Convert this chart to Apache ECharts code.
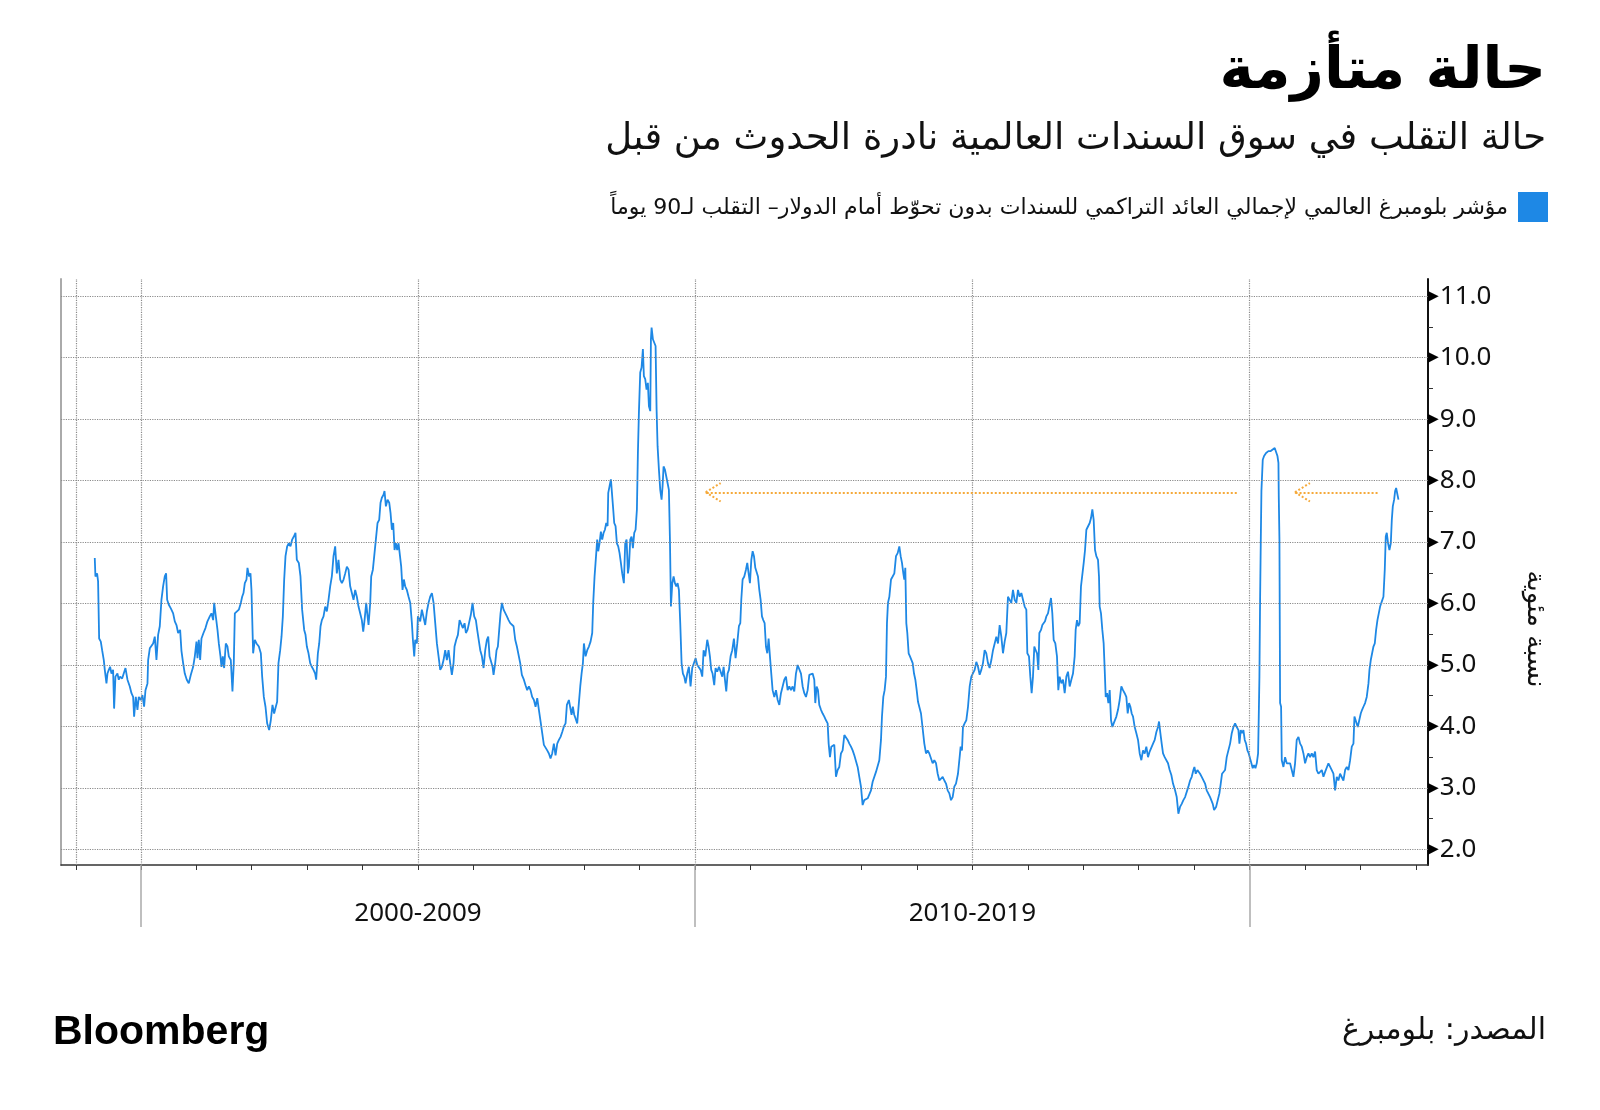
<!DOCTYPE html>
<html>
<head>
<meta charset="utf-8">
<script src="https://cdn.jsdelivr.net/npm/echarts@6/dist/echarts.min.js"></script>
<style>
  html, body { margin: 0; padding: 0; background: #fff; }
  #chart { width: 1600px; height: 1110px; }
</style>
</head>
<body>
<div id="chart"></div>
<script>
// 90-day volatility, [decimal year, percent]
const vol1999 = [
  [1999.169, 6.74], [1999.181, 6.44], [1999.211, 6.49], [1999.229, 6.36], [1999.248, 5.43], [1999.278, 5.38],
  [1999.302, 5.24], [1999.332, 5.08], [1999.350, 4.92], [1999.380, 4.70], [1999.398, 4.86], [1999.422, 4.92],
  [1999.446, 4.97], [1999.470, 4.86], [1999.500, 4.92], [1999.518, 4.29], [1999.542, 4.81], [1999.578, 4.86],
  [1999.602, 4.76], [1999.626, 4.81], [1999.663, 4.78], [1999.699, 4.81], [1999.723, 4.95], [1999.759, 4.76],
  [1999.801, 4.65], [1999.831, 4.54], [1999.861, 4.48], [1999.879, 4.16], [1999.909, 4.48], [1999.939, 4.27],
  [1999.963, 4.48], [1999.999, 4.43], [2000.029, 4.51], [2000.059, 4.32], [2000.084, 4.59], [2000.120, 4.70],
  [2000.132, 5.08], [2000.162, 5.27], [2000.192, 5.30], [2000.222, 5.35], [2000.252, 5.46], [2000.282, 5.08],
  [2000.312, 5.49], [2000.342, 5.63], [2000.372, 6.06], [2000.402, 6.28], [2000.432, 6.44], [2000.456, 6.49],
  [2000.475, 6.06], [2000.505, 5.98], [2000.541, 5.92], [2000.583, 5.84], [2000.613, 5.71], [2000.643, 5.65],
  [2000.673, 5.52], [2000.709, 5.57], [2000.733, 5.23], [2000.763, 5.03], [2000.793, 4.86], [2000.829, 4.76],
  [2000.865, 4.70], [2000.902, 4.84], [2000.944, 4.97], [2000.974, 5.14], [2001.004, 5.38], [2001.022, 5.11],
  [2001.046, 5.41], [2001.070, 5.08], [2001.094, 5.43], [2001.130, 5.52], [2001.166, 5.60], [2001.202, 5.71],
  [2001.244, 5.79], [2001.274, 5.84], [2001.305, 5.73], [2001.323, 6.01], [2001.353, 5.79], [2001.383, 5.57],
  [2001.407, 5.35], [2001.437, 5.14], [2001.455, 4.97], [2001.479, 5.14], [2001.503, 4.95], [2001.533, 5.35],
  [2001.563, 5.30], [2001.587, 5.14], [2001.623, 5.08], [2001.653, 4.57], [2001.677, 5.03], [2001.696, 5.84],
  [2001.726, 5.87], [2001.768, 5.90], [2001.804, 6.01], [2001.828, 6.11], [2001.852, 6.17], [2001.876, 6.33],
  [2001.906, 6.39], [2001.924, 6.58], [2001.954, 6.44], [2001.978, 6.49], [2001.996, 6.22], [2002.026, 5.19],
  [2002.056, 5.41], [2002.087, 5.35], [2002.129, 5.30], [2002.165, 5.19], [2002.189, 4.81], [2002.219, 4.48],
  [2002.249, 4.32], [2002.279, 4.05], [2002.315, 3.94], [2002.345, 4.10], [2002.375, 4.35], [2002.405, 4.21],
  [2002.435, 4.32], [2002.459, 4.40], [2002.483, 5.03], [2002.514, 5.24], [2002.538, 5.46], [2002.562, 5.79],
  [2002.586, 6.39], [2002.610, 6.77], [2002.640, 6.93], [2002.670, 6.98], [2002.700, 6.93], [2002.730, 7.04],
  [2002.760, 7.09], [2002.790, 7.15], [2002.814, 6.71], [2002.850, 6.66], [2002.880, 6.44], [2002.910, 5.90],
  [2002.947, 5.57], [2002.971, 5.49]
];
const vol2003 = [
  [2002.995, 5.30], [2003.025, 5.19], [2003.055, 5.03], [2003.085, 4.97], [2003.115, 4.92], [2003.145, 4.86],
  [2003.163, 4.76], [2003.194, 5.19], [2003.218, 5.35], [2003.242, 5.63], [2003.266, 5.73], [2003.296, 5.79],
  [2003.326, 5.95], [2003.356, 5.87], [2003.386, 6.06], [2003.416, 6.28], [2003.446, 6.44], [2003.476, 6.77],
  [2003.506, 6.93], [2003.536, 6.49], [2003.566, 6.71], [2003.597, 6.39], [2003.627, 6.33], [2003.657, 6.39],
  [2003.687, 6.49], [2003.717, 6.60], [2003.747, 6.55], [2003.777, 6.28], [2003.807, 6.17], [2003.837, 6.06],
  [2003.867, 6.22], [2003.897, 6.11], [2003.927, 5.95], [2003.957, 5.84], [2003.987, 5.73], [2004.012, 5.54],
  [2004.036, 5.73], [2004.066, 6.01], [2004.090, 5.79], [2004.108, 5.65], [2004.138, 6.01], [2004.156, 6.44],
  [2004.186, 6.55], [2004.216, 6.58], [2004.240, 7.04], [2004.270, 7.31], [2004.300, 7.36], [2004.324, 7.64],
  [2004.348, 7.72], [2004.378, 7.77], [2004.396, 7.83], [2004.421, 7.58], [2004.451, 7.69], [2004.481, 7.64],
  [2004.505, 7.47], [2004.529, 7.20], [2004.553, 7.31], [2004.577, 6.87], [2004.601, 6.98], [2004.625, 6.87],
  [2004.649, 6.98], [2004.673, 6.98], [2004.697, 6.60], [2004.721, 6.22], [2004.745, 6.39], [2004.769, 6.28],
  [2004.799, 6.22], [2004.830, 6.11], [2004.860, 6.01], [2004.890, 5.68], [2004.908, 5.41], [2004.932, 5.14],
  [2004.950, 5.41], [2004.980, 5.35], [2004.998, 5.79], [2005.022, 5.79], [2005.040, 5.71], [2005.070, 5.90],
  [2005.100, 5.92], [2005.130, 5.65], [2005.160, 5.87], [2005.190, 6.01], [2005.220, 6.11], [2005.251, 6.17],
  [2005.281, 6.01], [2005.311, 5.68], [2005.341, 5.35], [2005.371, 5.14], [2005.401, 4.92], [2005.431, 4.97],
  [2005.461, 5.08], [2005.491, 5.24], [2005.521, 5.08], [2005.551, 5.24], [2005.581, 5.03], [2005.611, 4.84],
  [2005.641, 5.03], [2005.659, 5.30], [2005.690, 5.41], [2005.720, 5.49], [2005.750, 5.73], [2005.780, 5.71],
  [2005.810, 5.60], [2005.840, 5.68], [2005.864, 5.52], [2005.894, 5.57], [2005.924, 5.57], [2005.954, 5.82],
  [2005.984, 6.01], [2006.014, 5.79], [2006.044, 5.73], [2006.068, 5.57], [2006.093, 5.57], [2006.123, 5.24],
  [2006.153, 5.14], [2006.183, 4.95], [2006.213, 5.24], [2006.243, 5.41], [2006.267, 5.46], [2006.291, 5.14],
  [2006.321, 5.14], [2006.345, 4.97], [2006.363, 4.84], [2006.393, 5.03], [2006.417, 5.24], [2006.441, 5.30],
  [2006.465, 5.57], [2006.489, 5.84], [2006.514, 6.01], [2006.544, 5.90], [2006.574, 5.87], [2006.604, 5.79],
  [2006.634, 5.73], [2006.664, 5.68], [2006.694, 5.71], [2006.724, 5.63], [2006.754, 5.41], [2006.784, 5.30],
  [2006.814, 5.30], [2006.844, 5.03], [2006.874, 4.84]
];
const vol2007 = [
  [2006.910, 4.76], [2006.940, 4.67], [2006.970, 4.59], [2007.000, 4.65], [2007.030, 4.59], [2007.060, 4.48],
  [2007.091, 4.43], [2007.121, 4.32], [2007.151, 4.46], [2007.181, 4.27], [2007.211, 4.08], [2007.241, 3.89],
  [2007.271, 3.70], [2007.301, 3.67], [2007.331, 3.61], [2007.361, 3.56], [2007.391, 3.48], [2007.421, 3.56],
  [2007.451, 3.72], [2007.481, 3.53], [2007.512, 3.72], [2007.542, 3.78], [2007.572, 3.83], [2007.602, 3.91],
  [2007.632, 4.00], [2007.662, 4.05], [2007.686, 4.35], [2007.722, 4.43], [2007.752, 4.46], [2007.770, 4.19],
  [2007.794, 4.32], [2007.818, 4.19], [2007.842, 4.13], [2007.872, 4.05], [2007.902, 4.38], [2007.927, 4.65],
  [2007.951, 4.86], [2007.975, 5.03], [2007.993, 5.35], [2008.023, 5.14], [2008.053, 5.24], [2008.083, 5.30],
  [2008.113, 5.38], [2008.143, 5.52], [2008.161, 6.01], [2008.185, 6.44], [2008.203, 6.66], [2008.233, 7.04],
  [2008.251, 6.85], [2008.275, 6.98], [2008.299, 7.17], [2008.323, 7.04], [2008.348, 7.15], [2008.372, 7.20],
  [2008.396, 7.31], [2008.420, 7.26], [2008.432, 7.80], [2008.456, 7.91], [2008.480, 8.02], [2008.504, 7.74],
  [2008.522, 7.53], [2008.540, 7.31], [2008.564, 7.26], [2008.588, 6.98], [2008.612, 6.93], [2008.636, 6.82],
  [2008.660, 6.66], [2008.684, 6.49], [2008.714, 6.33], [2008.738, 6.98], [2008.763, 7.04], [2008.787, 6.49],
  [2008.805, 6.60], [2008.829, 7.04], [2008.853, 7.09], [2008.877, 6.90], [2008.901, 7.15], [2008.925, 7.20],
  [2008.949, 7.53], [2008.967, 8.45], [2008.985, 9.10], [2009.009, 9.76], [2009.033, 9.84], [2009.057, 10.14],
  [2009.075, 9.70], [2009.099, 9.65], [2009.123, 9.48], [2009.147, 9.59], [2009.166, 9.21], [2009.190, 9.13],
  [2009.202, 10.30], [2009.214, 10.49], [2009.238, 10.30], [2009.262, 10.27], [2009.286, 10.19], [2009.304, 9.16],
  [2009.322, 8.56], [2009.346, 8.18], [2009.370, 7.85], [2009.394, 7.69], [2009.412, 7.91], [2009.430, 8.23],
  [2009.454, 8.18], [2009.478, 8.18], [2009.502, 7.96], [2009.526, 7.85], [2009.545, 7.04], [2009.563, 5.95],
  [2009.587, 6.33], [2009.611, 6.44], [2009.635, 6.33], [2009.659, 6.28], [2009.683, 6.33], [2009.707, 6.22],
  [2009.731, 5.68], [2009.755, 5.03], [2009.779, 4.86], [2009.803, 4.81], [2009.827, 4.70], [2009.857, 4.86],
  [2009.887, 4.97], [2009.917, 4.65], [2009.947, 4.95], [2009.978, 4.92], [2010.008, 5.11], [2010.038, 5.00],
  [2010.068, 5.00], [2010.098, 4.92], [2010.128, 4.81], [2010.152, 5.24], [2010.182, 5.14], [2010.218, 5.41],
  [2010.242, 5.30], [2010.266, 5.14], [2010.290, 4.92], [2010.314, 4.86], [2010.344, 4.67], [2010.368, 4.95],
  [2010.398, 4.89], [2010.429, 4.97], [2010.459, 5.00], [2010.489, 4.81], [2010.513, 4.97], [2010.537, 4.76],
  [2010.561, 4.57], [2010.585, 4.86], [2010.609, 4.92], [2010.639, 5.14], [2010.669, 5.24], [2010.699, 5.43],
  [2010.729, 5.11], [2010.759, 5.35], [2010.789, 5.63]
];
const vol2011 = [
  [2010.814, 5.68], [2010.832, 6.06], [2010.856, 6.39], [2010.886, 6.44], [2010.916, 6.55], [2010.940, 6.66],
  [2010.964, 6.49], [2010.988, 6.33], [2011.013, 6.71], [2011.037, 6.85], [2011.061, 6.77], [2011.085, 6.58],
  [2011.109, 6.55], [2011.133, 6.44], [2011.157, 6.22], [2011.181, 6.06], [2011.205, 5.79], [2011.229, 5.73],
  [2011.253, 5.68], [2011.277, 5.30], [2011.301, 5.19], [2011.325, 5.43], [2011.349, 5.14], [2011.373, 4.86],
  [2011.397, 4.59], [2011.428, 4.48], [2011.458, 4.59], [2011.488, 4.43], [2011.518, 4.35], [2011.548, 4.54],
  [2011.578, 4.65], [2011.608, 4.76], [2011.638, 4.81], [2011.668, 4.59], [2011.698, 4.65], [2011.728, 4.59],
  [2011.758, 4.65], [2011.788, 4.57], [2011.818, 4.86], [2011.849, 5.00], [2011.879, 4.97], [2011.909, 4.86],
  [2011.939, 4.65], [2011.969, 4.54], [2011.999, 4.48], [2012.029, 4.59], [2012.059, 4.84], [2012.089, 4.84],
  [2012.119, 4.86], [2012.149, 4.76], [2012.167, 4.38], [2012.191, 4.65], [2012.215, 4.59], [2012.239, 4.35],
  [2012.270, 4.27], [2012.300, 4.21], [2012.330, 4.16], [2012.360, 4.10], [2012.390, 4.05], [2012.408, 3.72],
  [2012.432, 3.50], [2012.456, 3.67], [2012.480, 3.70], [2012.510, 3.70], [2012.540, 3.18], [2012.570, 3.29],
  [2012.600, 3.34], [2012.630, 3.56], [2012.660, 3.61], [2012.691, 3.86], [2012.721, 3.83], [2012.751, 3.78],
  [2012.781, 3.72], [2012.811, 3.67], [2012.841, 3.61], [2012.871, 3.53], [2012.901, 3.50], [2012.931, 3.34],
  [2012.961, 3.18], [2012.991, 3.02], [2013.021, 2.72], [2013.051, 2.80], [2013.081, 2.83], [2013.112, 2.83],
  [2013.142, 2.80], [2013.172, 2.96], [2013.202, 3.10], [2013.232, 3.07], [2013.262, 3.26], [2013.292, 3.29],
  [2013.322, 3.45], [2013.352, 3.78], [2013.370, 4.16], [2013.394, 4.48], [2013.418, 4.59], [2013.442, 4.81],
  [2013.460, 5.68], [2013.478, 6.01], [2013.503, 6.11], [2013.533, 6.39], [2013.563, 6.44], [2013.593, 6.49],
  [2013.623, 6.77], [2013.653, 6.82], [2013.683, 6.93], [2013.707, 6.77], [2013.731, 6.66], [2013.755, 6.49],
  [2013.773, 6.39], [2013.791, 6.58], [2013.809, 5.68], [2013.827, 5.52], [2013.851, 5.19], [2013.875, 5.14],
  [2013.899, 5.14], [2013.924, 5.03], [2013.948, 4.86], [2013.972, 4.76], [2013.996, 4.59], [2014.020, 4.40],
  [2014.044, 4.38], [2014.074, 4.21], [2014.104, 4.19], [2014.134, 3.72], [2014.164, 3.56], [2014.194, 3.61],
  [2014.224, 3.56], [2014.254, 3.56], [2014.284, 3.40], [2014.314, 3.45], [2014.345, 3.40], [2014.375, 3.23],
  [2014.405, 3.12], [2014.435, 3.12], [2014.465, 3.18], [2014.495, 3.12], [2014.525, 3.07], [2014.555, 2.96],
  [2014.585, 2.91], [2014.615, 2.80], [2014.645, 2.85], [2014.675, 3.02], [2014.705, 3.07]
];
const vol2015 = [
  [2014.741, 3.23], [2014.771, 3.50], [2014.789, 3.67], [2014.813, 3.61], [2014.831, 3.99], [2014.861, 4.05],
  [2014.891, 4.10], [2014.922, 4.32], [2014.952, 4.65], [2014.982, 4.81], [2015.012, 4.84], [2015.042, 4.92],
  [2015.072, 5.05], [2015.102, 4.97], [2015.132, 4.84], [2015.162, 4.92], [2015.192, 5.03], [2015.222, 5.24],
  [2015.252, 5.19], [2015.282, 5.03], [2015.312, 4.95], [2015.343, 5.08], [2015.373, 5.24], [2015.403, 5.27],
  [2015.433, 5.46], [2015.463, 5.35], [2015.493, 5.65], [2015.523, 5.46], [2015.553, 5.19], [2015.583, 5.38],
  [2015.613, 5.52], [2015.643, 6.11], [2015.673, 6.06], [2015.703, 6.01], [2015.733, 6.22], [2015.764, 6.06],
  [2015.794, 6.01], [2015.824, 6.22], [2015.854, 6.11], [2015.884, 6.17], [2015.914, 6.06], [2015.944, 5.95],
  [2015.974, 5.90], [2015.992, 5.19], [2016.022, 5.14], [2016.046, 4.81], [2016.070, 4.54], [2016.094, 4.81],
  [2016.118, 5.30], [2016.142, 5.24], [2016.167, 5.19], [2016.191, 4.92], [2016.209, 5.52], [2016.239, 5.57],
  [2016.263, 5.65], [2016.287, 5.68], [2016.311, 5.71], [2016.335, 5.79], [2016.365, 5.84], [2016.395, 5.84],
  [2016.419, 6.09], [2016.443, 5.84], [2016.467, 5.41], [2016.497, 5.35], [2016.527, 5.14], [2016.551, 4.59],
  [2016.575, 4.81], [2016.606, 4.70], [2016.636, 4.76], [2016.666, 4.54], [2016.696, 4.81], [2016.726, 4.89],
  [2016.756, 4.65], [2016.786, 4.76], [2016.816, 4.86], [2016.846, 5.14], [2016.864, 5.57], [2016.888, 5.73],
  [2016.912, 5.63], [2016.936, 5.68], [2016.960, 6.28], [2016.985, 6.28], [2017.009, 6.66], [2017.033, 6.87],
  [2017.057, 7.20], [2017.087, 7.20], [2017.117, 7.31], [2017.141, 7.39], [2017.165, 7.53], [2017.189, 7.36],
  [2017.213, 6.87], [2017.237, 6.77], [2017.267, 6.71], [2017.285, 6.44], [2017.297, 5.95], [2017.321, 5.84],
  [2017.345, 5.57], [2017.369, 5.35], [2017.388, 4.92], [2017.406, 4.48], [2017.430, 4.54], [2017.454, 4.38],
  [2017.478, 4.59], [2017.502, 4.10], [2017.526, 3.99], [2017.550, 4.05], [2017.574, 4.05], [2017.598, 4.16],
  [2017.628, 4.27], [2017.658, 4.43], [2017.688, 4.65], [2017.718, 4.59], [2017.748, 4.54], [2017.778, 4.48],
  [2017.803, 4.21], [2017.827, 4.38], [2017.851, 4.32], [2017.875, 4.21], [2017.899, 4.16], [2017.929, 3.99],
  [2017.959, 3.89], [2017.989, 3.78], [2018.019, 3.56], [2018.049, 3.45], [2018.079, 3.61], [2018.109, 3.56],
  [2018.139, 3.67], [2018.169, 3.50], [2018.199, 3.59], [2018.230, 3.56], [2018.260, 3.72], [2018.290, 3.78],
  [2018.320, 3.91], [2018.350, 3.99], [2018.368, 4.08], [2018.392, 3.89], [2018.416, 3.72], [2018.440, 3.56],
  [2018.470, 3.50], [2018.500, 3.48], [2018.530, 3.40], [2018.560, 3.29], [2018.590, 3.21], [2018.620, 3.07]
];
const vol2019 = [
  [2018.657, 2.96], [2018.687, 2.85], [2018.717, 2.58], [2018.747, 2.69], [2018.777, 2.74], [2018.807, 2.80],
  [2018.838, 2.85], [2018.868, 2.85], [2018.898, 3.02], [2018.928, 3.12], [2018.958, 3.18], [2018.988, 3.29],
  [2019.006, 3.34], [2019.030, 3.23], [2019.060, 3.29], [2019.084, 3.29], [2019.108, 3.23], [2019.138, 3.18],
  [2019.168, 3.18], [2019.198, 3.07], [2019.228, 2.96], [2019.259, 2.96], [2019.289, 2.85], [2019.319, 2.85],
  [2019.337, 2.74], [2019.361, 2.64], [2019.397, 2.69], [2019.433, 2.66], [2019.457, 2.91], [2019.481, 3.07],
  [2019.505, 3.23], [2019.529, 3.26], [2019.559, 3.29], [2019.589, 3.50], [2019.619, 3.61], [2019.650, 3.72],
  [2019.680, 3.89], [2019.710, 3.99], [2019.740, 4.05], [2019.770, 3.99], [2019.800, 3.94], [2019.818, 3.72],
  [2019.842, 3.94], [2019.866, 3.89], [2019.890, 3.94], [2019.914, 3.78], [2019.938, 3.72], [2019.962, 3.61],
  [2019.986, 3.56], [2020.010, 3.48], [2020.034, 3.40], [2020.058, 3.32], [2020.083, 3.37], [2020.107, 3.32],
  [2020.131, 3.40], [2020.155, 3.56], [2020.167, 4.16], [2020.179, 4.81], [2020.191, 6.06], [2020.203, 6.98],
  [2020.215, 7.83], [2020.227, 7.85], [2020.239, 8.34], [2020.263, 8.40], [2020.299, 8.45], [2020.341, 8.48],
  [2020.383, 8.48], [2020.419, 8.51], [2020.455, 8.53], [2020.479, 8.53], [2020.504, 8.40], [2020.522, 8.29],
  [2020.528, 7.74], [2020.540, 7.04], [2020.552, 4.38], [2020.570, 4.32], [2020.582, 3.45], [2020.612, 3.34],
  [2020.642, 3.50], [2020.672, 3.40], [2020.702, 3.42], [2020.732, 3.40], [2020.762, 3.29], [2020.792, 3.18],
  [2020.822, 3.40], [2020.852, 3.78], [2020.883, 3.83], [2020.913, 3.72], [2020.943, 3.67], [2020.973, 3.56],
  [2021.003, 3.40], [2021.033, 3.50], [2021.063, 3.56], [2021.093, 3.50], [2021.123, 3.56], [2021.153, 3.50],
  [2021.183, 3.59], [2021.213, 3.29], [2021.243, 3.23], [2021.273, 3.21], [2021.304, 3.29], [2021.334, 3.18],
  [2021.364, 3.26], [2021.394, 3.29], [2021.424, 3.40], [2021.454, 3.37], [2021.484, 3.29], [2021.514, 3.23],
  [2021.544, 2.96], [2021.574, 3.18], [2021.604, 3.12], [2021.634, 3.23], [2021.664, 3.21], [2021.694, 3.12],
  [2021.725, 3.29], [2021.755, 3.34], [2021.785, 3.29], [2021.815, 3.45], [2021.845, 3.67], [2021.875, 3.72],
  [2021.893, 4.16], [2021.923, 4.16], [2021.953, 3.99], [2021.983, 3.99], [2022.007, 4.21], [2022.031, 4.27],
  [2022.055, 4.32], [2022.085, 4.38], [2022.115, 4.48], [2022.146, 4.70], [2022.164, 4.92], [2022.188, 5.08],
  [2022.212, 5.19], [2022.236, 5.30], [2022.260, 5.35], [2022.284, 5.57], [2022.308, 5.73], [2022.332, 5.84],
  [2022.356, 5.95], [2022.386, 6.03], [2022.416, 6.11], [2022.440, 6.55], [2022.458, 7.09], [2022.476, 7.15],
  [2022.500, 6.98], [2022.524, 6.87], [2022.549, 6.98], [2022.567, 7.36], [2022.585, 7.58], [2022.609, 7.69],
  [2022.627, 7.83], [2022.645, 7.88], [2022.669, 7.85], [2022.687, 7.69]
];

const yTicks = [2, 3, 4, 5, 6, 7, 8, 9, 10, 11];
const yMinorTicks = [2.5, 3.5, 4.5, 5.5, 6.5, 7.5, 8.5, 9.5, 10.5];
const yearTicks = [1998.83, 2000, 2001, 2002, 2003, 2004, 2005, 2006, 2007, 2008, 2009, 2010,
  2011, 2012, 2013, 2014, 2015, 2016, 2017, 2018, 2019, 2020, 2021, 2022, 2023];
const gridYears = [1998.83, 2000, 2005, 2010, 2015, 2020];
const decadeEdges = [2000, 2010, 2020];
const decadeMids = [2005, 2015];
const decadeNames = ['2000-2009', '2010-2019'];
// comparison arrows: [from year, to year, level]
const arrows = [[2019.77, 2010.19, 7.81], [2022.31, 2020.82, 7.81]];

const xMin = 1998.56, xMax = 2023.22;
const yMin = 1.745, yMax = 11.28;
const blue = '#1e88e5';
const orange = '#f5a93a';

const allVol = [].concat(vol1999, vol2003, vol2007, vol2011, vol2015, vol2019);

// arrows drawn as dotted shaft + two dotted barbs
const arrowLines = [];
arrows.forEach(function (a) {
  arrowLines.push([{ coord: [a[0], a[2]] }, { coord: [a[1], a[2]] }]);
  arrowLines.push([{ coord: [a[1], a[2]] }, { coord: [a[1] + 0.27, a[2] + 0.15] }]);
  arrowLines.push([{ coord: [a[1], a[2]] }, { coord: [a[1] + 0.27, a[2] - 0.15] }]);
});

const chart = echarts.init(document.getElementById('chart'));
chart.setOption({
  backgroundColor: '#fff',
  animation: false,
  grid: { left: 61, right: 172, top: 279, bottom: 245 },
  xAxis: [
    {
      type: 'value', min: xMin, max: xMax, position: 'bottom',
      axisLine: { show: true, lineStyle: { color: '#333', width: 1.5 } },
      axisTick: { show: true, customValues: yearTicks, length: 5, lineStyle: { color: '#333' } },
      axisLabel: { show: false },
      splitLine: { show: false }
    },
    {
      type: 'value', min: xMin, max: xMax, position: 'bottom',
      axisLine: { show: false },
      axisTick: { show: true, customValues: decadeEdges, length: 62, lineStyle: { color: '#aaa', width: 1.5 } },
      axisLabel: {
        show: true, customValues: decadeMids, margin: 36,
        fontFamily: 'Noto Sans', fontSize: 26, color: '#111',
        formatter: function (v) { return decadeNames[decadeMids.indexOf(Math.round(v))] || ''; }
      },
      splitLine: { show: false }
    }
  ],
  yAxis: [
    {
      type: 'value', min: yMin, max: yMax, position: 'right',
      axisLine: { show: true, lineStyle: { color: '#111', width: 2 } },
      axisTick: { show: false },
      axisLabel: {
        show: true, customValues: yTicks, margin: 0,
        formatter: function (v) { return '{t|\u25B6}{n|' + v.toFixed(1) + '}'; },
        rich: {
          t: { fontFamily: 'DejaVu Sans', fontSize: 14, color: '#000', verticalAlign: 'middle', padding: [0, 1, 0, 0] },
          n: { fontFamily: 'Noto Sans', fontSize: 26, color: '#111', verticalAlign: 'middle' }
        }
      },
      splitLine: { show: false }
    },
    {
      type: 'value', min: yMin, max: yMax, position: 'right',
      axisLine: { show: false },
      axisTick: { show: true, customValues: yMinorTicks, length: 5, lineStyle: { color: '#333' } },
      axisLabel: { show: false },
      splitLine: { show: false }
    },
    {
      type: 'value', min: yMin, max: yMax, position: 'left',
      axisLine: { show: true, lineStyle: { color: '#aaa', width: 2 } },
      axisTick: { show: false },
      axisLabel: { show: false },
      splitLine: { show: false }
    }
  ],
  series: [
    {
      name: 'grid',
      type: 'line',
      data: [],
      z: 1,
      silent: true,
      markLine: {
        silent: true,
        symbol: 'none',
        label: { show: false },
        lineStyle: { color: '#8a8a8a', type: 'dotted', width: 1.2 },
        data: yTicks.map(function (v) { return { yAxis: v }; })
          .concat(gridYears.map(function (v) { return { xAxis: v }; }))
      }
    },
    {
      name: 'vol',
      type: 'line',
      data: allVol,
      z: 3,
      showSymbol: false,
      symbol: 'none',
      lineStyle: { color: blue, width: 1.8 },
      markLine: {
        silent: true,
        symbol: 'none',
        label: { show: false },
        lineStyle: { color: orange, type: 'dotted', width: 2 },
        data: arrowLines
      }
    }
  ],
  graphic: [
    {
      type: 'text', right: 54, top: 44,
      style: { text: 'حالة متأزمة', font: 'bold 58px "DejaVu Sans"', fill: '#000' }
    },
    {
      type: 'text', right: 54, top: 121,
      style: { text: 'حالة التقلب في سوق السندات العالمية نادرة الحدوث من قبل', font: '37px "DejaVu Sans"', fill: '#111' }
    },
    {
      type: 'rect', shape: { x: 1518, y: 192, width: 30, height: 30 },
      style: { fill: blue }
    },
    {
      type: 'text', right: 92, top: 197,
      style: { text: 'مؤشر بلومبرغ العالمي لإجمالي العائد التراكمي للسندات بدون تحوّط أمام الدولار– التقلب لـ90 يوماً', font: '22px "DejaVu Sans"', fill: '#111' }
    },
    {
      type: 'text', x: 1535, y: 629, rotation: -Math.PI / 2,
      style: { text: 'نسبة مئوية', font: '26px "DejaVu Sans"', fill: '#111', align: 'center', verticalAlign: 'middle' }
    },
    {
      type: 'text', left: 53, top: 1012,
      style: { text: 'Bloomberg', font: 'bold 41px "Liberation Sans"', fill: '#000' }
    },
    {
      type: 'text', right: 54, top: 1016,
      style: { text: 'المصدر: بلومبرغ', font: '30px "DejaVu Sans"', fill: '#111' }
    }
  ]
});
</script>
</body>
</html>
